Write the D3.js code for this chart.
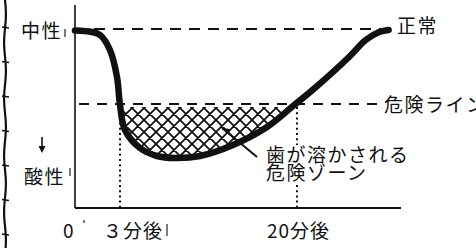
<!DOCTYPE html>
<html>
<head>
<meta charset="utf-8">
<script src="https://cdn.jsdelivr.net/npm/d3@7"></script>
<style>
  body { margin: 0; background: #fff; }
  svg { display: block; }
  text { font-family: "Noto Sans CJK JP", "Noto Sans", sans-serif; fill: #111; }
</style>
</head>
<body>
<svg id="chart" width="476" height="248"></svg>
<script>
// minutes after eating vs mouth pH
const minutes = [0, 1.13, 1.67, 2.33, 2.8, 3, 3.48, 4.92, 6.55, 8.28, 10.68, 13.85, 17.12, 19.62, 21.83, 25.0, 26.6, 27.9, 28.8]
const phValues = [6.97, 6.94, 6.88, 6.58, 6.04, 5.48, 4.98, 4.62, 4.46, 4.42, 4.46, 4.68, 5.04, 5.46, 5.84, 6.44, 6.78, 6.94, 6.98]

const neutralPh = 7.0
const dangerPh = 5.5
const markTimes = [3, 20]
const timeLabels = ['0', '３分後', '20分後']
const labelTimes = [0, 3, 20]

const svg = d3.select('#chart')

// the drawing is not to scale between 0 and 3 min
const x = d3.scaleLinear().domain([0, 3, 20]).range([75, 120, 297])
const y = d3.scaleLinear().domain([dangerPh, neutralPh]).range([104, 29])

const ink = '#111'
const FS = 19

// binding edge on the left
const edge = d3.path()
edge.moveTo(5, 0)
for (let yy = 0; yy <= 248; yy += 4) edge.lineTo(5 + Math.sin(yy / 9) * 0.9, yy)
svg.append('path').attr('d', edge.toString())
    .attr('fill', 'none').attr('stroke', ink).attr('stroke-width', 2.2)
svg.append('g').selectAll('line')
    .data(d3.range(27, 248, 34.5))
    .join('line')
    .attr('x1', 2).attr('x2', 9)
    .attr('y1', d => d).attr('y2', d => d + 1)
    .attr('stroke', ink).attr('stroke-width', 1.4)

// hatch pattern
const defs = svg.append('defs')
const pat = defs.append('pattern')
    .attr('id', 'hatch')
    .attr('patternUnits', 'userSpaceOnUse')
    .attr('width', 12).attr('height', 12)
pat.append('path').attr('d', 'M0,0L12,12M12,0L0,12M-3,9L3,15M9,-3L15,3M-3,3L3,-3M9,15L15,9')
    .attr('stroke', ink).attr('stroke-width', 1.8)

defs.append('clipPath').attr('id', 'below')
    .append('rect')
    .attr('x', 0).attr('y', y(dangerPh) + 3)
    .attr('width', 476).attr('height', 200)

const pts = minutes.map((m, i) => ({ m, ph: phValues[i] }))
const curve = d3.curveCatmullRom.alpha(0.5)

svg.append('path')
    .datum(pts)
    .attr('clip-path', 'url(#below)')
    .attr('fill', 'url(#hatch)')
    .attr('d', d3.area().curve(curve)
        .x(d => x(d.m))
        .y0(y(dangerPh))
        .y1(d => y(d.ph)))

// axes
const yAxisTop = 5
const xAxisY = 208
svg.append('line')
    .attr('x1', x(0)).attr('x2', x(0))
    .attr('y1', yAxisTop).attr('y2', xAxisY)
    .attr('stroke', ink).attr('stroke-width', 1.6)
svg.append('line')
    .attr('x1', x(0)).attr('x2', 401)
    .attr('y1', xAxisY).attr('y2', xAxisY)
    .attr('stroke', ink).attr('stroke-width', 2)

// reference lines
svg.append('line')
    .attr('x1', x(0)).attr('x2', 381)
    .attr('y1', y(neutralPh)).attr('y2', y(neutralPh))
    .attr('stroke', ink).attr('stroke-width', 2.2)
    .attr('stroke-dasharray', '11,8')
svg.append('line')
    .attr('x1', 79).attr('x2', 380)
    .attr('y1', y(dangerPh)).attr('y2', y(dangerPh))
    .attr('stroke', ink).attr('stroke-width', 2.2)
    .attr('stroke-dasharray', '10,8')

// dotted time markers
svg.append('g').selectAll('line')
    .data(markTimes)
    .join('line')
    .attr('x1', d => x(d)).attr('x2', d => x(d))
    .attr('y1', y(dangerPh) + 3).attr('y2', xAxisY + 1)
    .attr('stroke', ink).attr('stroke-width', 2)
    .attr('stroke-dasharray', '2,3.2')

// the pH curve
svg.append('path')
    .datum(pts)
    .attr('fill', 'none')
    .attr('stroke', ink)
    .attr('stroke-width', 6.5)
    .attr('stroke-linecap', 'round')
    .attr('stroke-linejoin', 'round')
    .attr('d', d3.line().curve(curve).x(d => x(d.m)).y(d => y(d.ph)))

// leader from label into the zone
svg.append('line')
    .attr('x1', x(16.16)).attr('y1', y(4.44))
    .attr('x2', x(12.8)).attr('y2', y(5.02))
    .attr('stroke', ink).attr('stroke-width', 2)
svg.append('path')
    .attr('d', `M${x(12.8)},${y(5.02)}l8,1l-3,5z`)
    .attr('fill', ink)

const lbl = (t, xx, yy, g = svg) => g.append('text')
    .attr('x', xx).attr('y', yy)
    .attr('font-size', FS).attr('letter-spacing', 1.5)
    .text(t)

// zone label with white back so the dotted line breaks
const zone = svg.append('g').attr('transform', 'translate(266,0)')
zone.append('rect').attr('x', -2).attr('y', 145).attr('width', 146).attr('height', 37).attr('fill', '#fff')
lbl('歯が溶かされる', 0, 162, zone)
lbl('危険ゾーン', 0, 180, zone)

// left and right labels
lbl('中性', 21, 38)
lbl('酸性', 24, 184)
lbl('正常', 397, 33)
lbl('危険ライン', 384, 112)

// down arrow
svg.append('line').attr('x1', 42).attr('x2', 42).attr('y1', 137).attr('y2', 148)
    .attr('stroke', ink).attr('stroke-width', 1.6)
svg.append('path').attr('d', 'M38.5,146L45.5,146L42,153z').attr('fill', ink)

// small tick marks beside labels
const ticks = [[65, 29, 65, 37], [70, 168, 70, 176], [167, 224, 167, 236], [84, 220, 84, 223]]
svg.append('g').selectAll('line').data(ticks).join('line')
    .attr('x1', d => d[0]).attr('y1', d => d[1])
    .attr('x2', d => d[2]).attr('y2', d => d[3])
    .attr('stroke', '#333').attr('stroke-width', 1.3)

// time labels
const labelX = [63, 103, 267]
svg.append('g').selectAll('text')
    .data(labelTimes)
    .join('text')
    .attr('x', (d, i) => labelX[i])
    .attr('y', 238)
    .attr('font-size', FS)
    .attr('letter-spacing', 1)
    .text((d, i) => timeLabels[i])
</script>
</body>
</html>
